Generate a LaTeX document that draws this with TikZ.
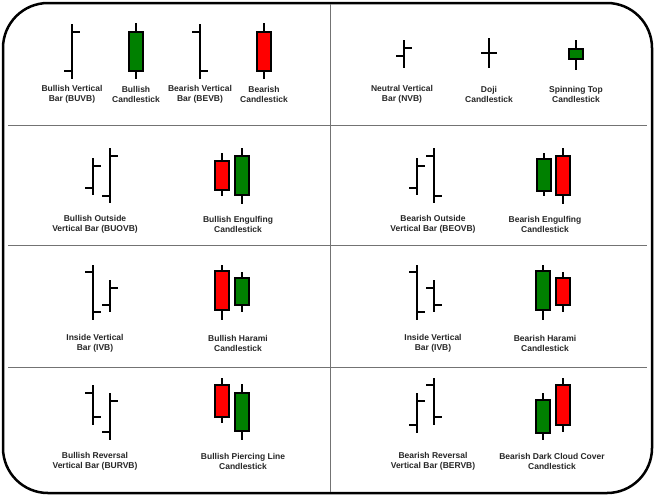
\documentclass[tikz,border=0pt]{standalone}
\usepackage{fontspec}
\setmainfont{Liberation Sans}
\usepackage{tikz}

% vertical bar: x, top, bottom, left tick y, right tick y
\newcommand{\vbar}[5]{%
	\draw[bar] (#1,#2) -- (#1,#3);
	\draw[bar] (#1-8,#4) -- (#1,#4);
	\draw[bar] (#1,#5) -- (#1+8,#5);}
% candle: x, wick top, body top, body bottom, wick bottom, colour
\newcommand{\candle}[6]{%
	\draw[bar] (#1,#2) -- (#1,#5);
	\draw[bar, fill=#6] (#1-7,#3) rectangle (#1+7,#4);}

\definecolor{bull}{RGB}{0,128,0}
\definecolor{bear}{RGB}{255,0,0}

\begin{document}
\begin{tikzpicture}[x=1pt, y=-1pt,
	bar/.style={line width=1.8pt},
	lbl/.style={font=\fontsize{8.5}{10}\selectfont\bfseries, align=center, text=black!85, inner sep=0pt},
	sep/.style={draw=black!55, line width=0.8pt}]
	\useasboundingbox (0,0) rectangle (655,496);
	\draw[line width=2.5pt, rounded corners=45pt] (3,3) rectangle (652,493);
	
	\draw[sep] (330,4) -- (330,492);
	\draw[sep] (8,125) -- (647,125);
	\draw[sep] (8,245) -- (647,245);
	\draw[sep] (8,367) -- (647,367);
	
	% top row
	\vbar{72}{24}{79}{71}{32}
	\candle{136}{23}{32}{71}{79}{bull}
	\vbar{200}{24}{79}{32}{71}
	\candle{264}{23}{32}{71}{79}{bear}
	\vbar{404}{40}{68}{56}{48}
	\vbar{489}{38}{68}{53}{53}
	\candle{576}{40}{49}{59}{70}{bull}
	\node[lbl] (buvb) at (72,94) {Bullish Vertical\\Bar (BUVB)};
	\node[lbl] (bulc) at (136,94) {Bullish\\Candlestick};
	\node[lbl] (bevb) at (200,94) {Bearish Vertical\\Bar (BEVB)};
	\node[lbl] (bearc) at (264,94) {Bearish\\Candlestick};
	\node[lbl] (nvb) at (402,94) {Neutral Vertical\\Bar (NVB)};
	\node[lbl] (doji) at (489,94) {Doji\\Candlestick};
	\node[lbl] (spin) at (576,94) {Spinning Top\\Candlestick};
	
	% outside / engulfing
	\vbar{93}{158}{195}{188}{166}
	\vbar{110}{148}{203}{196}{156}
	\candle{222}{153}{161}{190}{196}{bear}
	\candle{242}{148}{156}{195}{204}{bull}
	\node[lbl] (buovb) at (95,224) {Bullish Outside\\Vertical Bar (BUOVB)};
	\node[lbl] (bueng) at (238,224) {Bullish Engulfing\\Candlestick};
	\vbar{417}{158}{195}{188}{166}
	\vbar{434}{148}{203}{156}{196}
	\candle{544}{153}{159}{191}{196}{bull}
	\candle{563}{148}{156}{195}{204}{bear}
	\node[lbl] (beovb) at (433,224) {Bearish Outside\\Vertical Bar (BEOVB)};
	\node[lbl] (beeng) at (545,224) {Bearish Engulfing\\Candlestick};
	
	% inside / harami
	\vbar{93}{265}{320}{272}{312}
	\vbar{110}{280}{312}{305}{288}
	\candle{222}{265}{271}{310}{320}{bear}
	\candle{242}{272}{278}{305}{312}{bull}
	\node[lbl] (ivb) at (95,343) {Inside Vertical\\Bar (IVB)};
	\node[lbl] (buhar) at (238,343) {Bullish Harami\\Candlestick};
	\vbar{417}{265}{320}{272}{312}
	\vbar{434}{280}{312}{288}{305}
	\candle{543}{265}{271}{310}{320}{bull}
	\candle{563}{272}{278}{305}{312}{bear}
	\node[lbl] (ivbb) at (433,343) {Inside Vertical\\Bar (IVB)};
	\node[lbl] (behar) at (545,343) {Bearish Harami\\Candlestick};
	
	% reversal / piercing
	\vbar{93}{385}{425}{393}{417}
	\vbar{110}{393}{440}{432}{401}
	\candle{222}{378}{385}{417}{423}{bear}
	\candle{242}{384}{393}{431}{440}{bull}
	\node[lbl] (burvb) at (95,461) {Bullish Reversal\\Vertical Bar (BURVB)};
	\node[lbl] (pierce) at (243,461) {Bullish Piercing Line\\Candlestick};
	\vbar{417}{393}{433}{425}{401}
	\vbar{434}{378}{425}{385}{417}
	\candle{543}{393}{400}{433}{440}{bull}
	\candle{563}{378}{385}{425}{432}{bear}
	\node[lbl] (bervb) at (433,461) {Bearish Reversal\\Vertical Bar (BERVB)};
	\node[lbl] (cloud) at (552,461) {Bearish Dark Cloud Cover\\Candlestick};
\end{tikzpicture}
\end{document}
